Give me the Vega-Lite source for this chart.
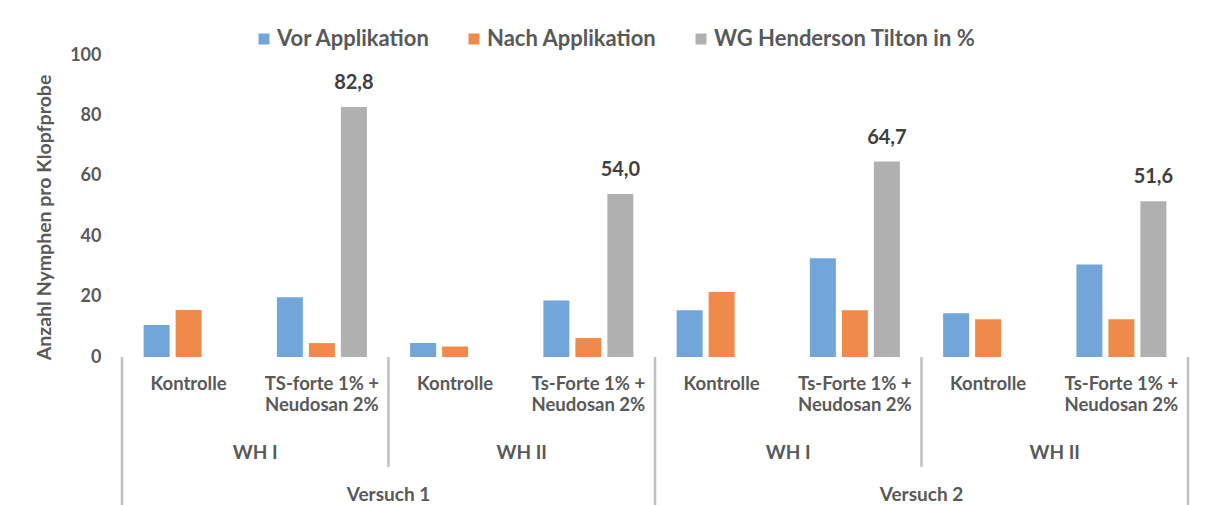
{
  "$schema": "https://vega.github.io/schema/vega-lite/v6.json",
  "autosize": {"type": "none"},
  "width": 1066,
  "height": 302,
  "padding": {"left": 122, "top": 55, "right": 20, "bottom": 148},
  "background": "white",
  "config": {"view": {"stroke": null}, "font": "Lato"},
  "datasets": {
    "bars": [
      {"cat": "c1", "series": "Vor Applikation", "value": 10.6},
      {"cat": "c1", "series": "Nach Applikation", "value": 15.6},
      {"cat": "c2", "series": "Vor Applikation", "value": 19.8},
      {"cat": "c2", "series": "Nach Applikation", "value": 4.6},
      {"cat": "c2", "series": "WG Henderson Tilton in %", "value": 82.8, "label": "82,8"},
      {"cat": "c3", "series": "Vor Applikation", "value": 4.6},
      {"cat": "c3", "series": "Nach Applikation", "value": 3.5},
      {"cat": "c4", "series": "Vor Applikation", "value": 18.7},
      {"cat": "c4", "series": "Nach Applikation", "value": 6.3},
      {"cat": "c4", "series": "WG Henderson Tilton in %", "value": 54.0, "label": "54,0"},
      {"cat": "c5", "series": "Vor Applikation", "value": 15.5},
      {"cat": "c5", "series": "Nach Applikation", "value": 21.5},
      {"cat": "c6", "series": "Vor Applikation", "value": 32.7},
      {"cat": "c6", "series": "Nach Applikation", "value": 15.5},
      {"cat": "c6", "series": "WG Henderson Tilton in %", "value": 64.7, "label": "64,7"},
      {"cat": "c7", "series": "Vor Applikation", "value": 14.5},
      {"cat": "c7", "series": "Nach Applikation", "value": 12.5},
      {"cat": "c8", "series": "Vor Applikation", "value": 30.6},
      {"cat": "c8", "series": "Nach Applikation", "value": 12.5},
      {"cat": "c8", "series": "WG Henderson Tilton in %", "value": 51.6, "label": "51,6"}
    ],
    "cats": [
      {"cat": "c1", "label": "Kontrolle"},
      {"cat": "c2", "label": "TS-forte 1% +\nNeudosan 2%"},
      {"cat": "c3", "label": "Kontrolle"},
      {"cat": "c4", "label": "Ts-Forte 1% +\nNeudosan 2%"},
      {"cat": "c5", "label": "Kontrolle"},
      {"cat": "c6", "label": "Ts-Forte 1% +\nNeudosan 2%"},
      {"cat": "c7", "label": "Kontrolle"},
      {"cat": "c8", "label": "Ts-Forte 1% +\nNeudosan 2%"}
    ],
    "wh": [
      {"cat": "c2", "label": "WH I"},
      {"cat": "c4", "label": "WH II"},
      {"cat": "c6", "label": "WH I"},
      {"cat": "c8", "label": "WH II"}
    ],
    "versuch": [
      {"cat": "c3", "label": "Versuch 1"},
      {"cat": "c7", "label": "Versuch 2"}
    ],
    "longsep": [{"cat": "c1"}, {"cat": "c5"}],
    "shortsep": [{"cat": "c3"}, {"cat": "c7"}],
    "endsep": [{"cat": "c8"}]
  },
  "layer": [
    {
      "data": {"name": "bars"},
      "mark": {"type": "bar"},
      "encoding": {
        "x": {
          "field": "cat", "type": "nominal",
          "scale": {"domain": ["c1","c2","c3","c4","c5","c6","c7","c8"], "paddingInner": 0, "paddingOuter": 0},
          "axis": {"labels": false, "ticks": false, "title": null, "grid": false, "domainColor": "#bfbfbf", "domainWidth": 3}
        },
        "xOffset": {
          "field": "series", "type": "nominal",
          "scale": {"domain": ["Vor Applikation", "Nach Applikation", "WG Henderson Tilton in %"], "paddingInner": 0.1875, "paddingOuter": 0.676}
        },
        "y": {
          "field": "value", "type": "quantitative",
          "scale": {"domain": [0, 100], "nice": false},
          "axis": {
            "values": [0, 20, 40, 60, 80, 100], "grid": false, "domain": false, "ticks": false,
            "labelFont": "Lato", "labelFontWeight": "bold", "labelFontSize": 18, "labelColor": "#595959",
            "labelPadding": 21, "labelFlush": false,
            "title": "Anzahl Nymphen pro Klopfprobe", "titleFont": "Lato", "titleFontWeight": "bold",
            "titleFontSize": 19.5, "titleColor": "#595959", "titlePadding": 15, "titleY": 162
          }
        },
        "color": {
          "field": "series", "type": "nominal",
          "scale": {"domain": ["Vor Applikation", "Nach Applikation", "WG Henderson Tilton in %"], "range": ["#72a6db", "#ef8a4a", "#b0b0b0"]},
          "legend": {
            "title": null, "orient": "none", "legendX": 131, "legendY": -27, "direction": "horizontal",
            "symbolType": "square", "symbolSize": 121, "symbolStrokeWidth": 0,
            "labelFont": "Lato", "labelFontWeight": "bold", "labelFontSize": 22, "labelColor": "#595959",
            "labelOffset": 2, "columnPadding": 33, "padding": 0, "labelLimit": 400
          }
        }
      }
    },
    {
      "data": {"name": "bars"},
      "transform": [{"filter": "isValid(datum.label)"}],
      "mark": {"type": "text", "baseline": "alphabetic", "dy": -18, "fontSize": 20, "fontWeight": "bold", "color": "#404040"},
      "encoding": {
        "x": {"field": "cat", "type": "nominal", "axis": null},
        "xOffset": {"field": "series", "type": "nominal"},
        "y": {"field": "value", "type": "quantitative"},
        "text": {"field": "label"}
      }
    },
    {
      "data": {"name": "cats"},
      "mark": {"type": "text", "baseline": "top", "align": "center", "lineBreak": "\n", "lineHeight": 21, "fontSize": 18.5, "fontWeight": "bold", "color": "#595959"},
      "encoding": {
        "x": {"field": "cat", "type": "nominal", "axis": null},
        "y": {"datum": -6.0, "type": "quantitative"},
        "text": {"field": "label"}
      }
    },
    {
      "data": {"name": "wh"},
      "mark": {"type": "text", "baseline": "middle", "align": "center", "fontSize": 19, "fontWeight": "bold", "color": "#595959"},
      "encoding": {
        "x": {"field": "cat", "type": "nominal", "bandPosition": 0, "axis": null},
        "y": {"datum": -31.8, "type": "quantitative"},
        "text": {"field": "label"}
      }
    },
    {
      "data": {"name": "versuch"},
      "mark": {"type": "text", "baseline": "middle", "align": "center", "fontSize": 19, "fontWeight": "bold", "color": "#595959"},
      "encoding": {
        "x": {"field": "cat", "type": "nominal", "bandPosition": 0, "axis": null},
        "y": {"datum": -45.8, "type": "quantitative"},
        "text": {"field": "label"}
      }
    },
    {
      "data": {"name": "longsep"},
      "mark": {"type": "rule", "color": "#bfbfbf", "strokeWidth": 2.5},
      "encoding": {
        "x": {"field": "cat", "type": "nominal", "bandPosition": 0, "axis": null},
        "y": {"datum": 0, "type": "quantitative"},
        "y2": {"datum": -49.5}
      }
    },
    {
      "data": {"name": "shortsep"},
      "mark": {"type": "rule", "color": "#bfbfbf", "strokeWidth": 2.5},
      "encoding": {
        "x": {"field": "cat", "type": "nominal", "bandPosition": 0, "axis": null},
        "y": {"datum": 0, "type": "quantitative"},
        "y2": {"datum": -36.4}
      }
    },
    {
      "data": {"name": "endsep"},
      "mark": {"type": "rule", "color": "#bfbfbf", "strokeWidth": 2.5},
      "encoding": {
        "x": {"field": "cat", "type": "nominal", "bandPosition": 1, "axis": null},
        "y": {"datum": 0, "type": "quantitative"},
        "y2": {"datum": -49.5}
      }
    }
  ]
}
